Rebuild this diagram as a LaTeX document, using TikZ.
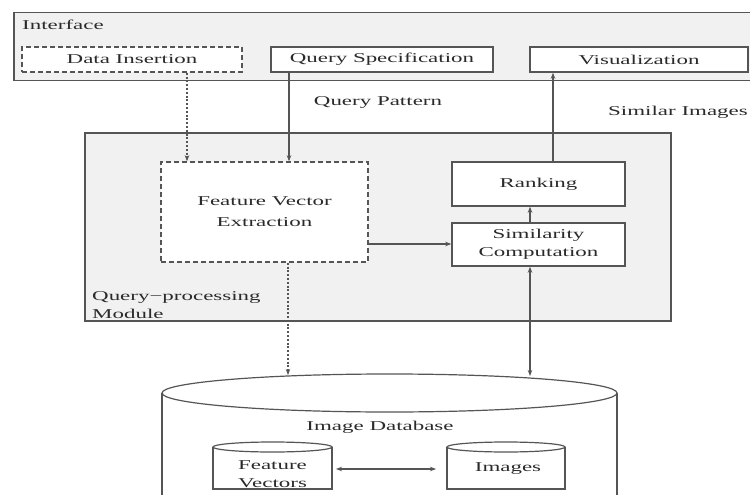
\documentclass[tikz,border=0pt]{standalone}
\usepackage{fontspec}
\setmainfont{Liberation Serif}
\usetikzlibrary{arrows.meta,calc}
\definecolor{ln}{HTML}{555555}
\definecolor{txt}{HTML}{2A2A2A}
\definecolor{bg}{HTML}{F1F1F1}
\newcommand\wtx[1]{\scalebox{1.7}[1]{#1}}
\begin{document}
\begin{tikzpicture}[x=1pt,y=-1pt,
  lbl/.style={inner sep=0pt, text=txt, font=\fontsize{13.5}{18}\selectfont},
  rect/.style={draw=ln, line width=1.5pt, fill=white, inner sep=0pt, text=txt,
    font=\fontsize{13.5}{18}\selectfont, align=center},
  dashbox/.style={dash pattern=on 5pt off 3pt},
  dotline/.style={dash pattern=on 2pt off 1.8pt, line width=1.6pt},
  arr/.style={draw=ln, line width=1.3pt, -{Stealth[length=6pt,width=4.5pt]}},
  arrtwo/.style={draw=ln, line width=1.3pt, {Stealth[length=6pt,width=4.5pt]}-{Stealth[length=6pt,width=4.5pt]}},
  dbline/.style={draw=ln, line width=1.2pt}]
\useasboundingbox (0,0) rectangle (750,495);
\clip (0,0) rectangle (750,495);
\fill[white] (0,0) rectangle (750,495);

% Interface
\node[draw=ln, line width=1.5pt, fill=bg, minimum width=760pt, minimum height=68pt,
  anchor=north west, inner sep=0pt] (iface) at (13,12) {};
\node[lbl, anchor=west] (ilbl) at (22,25) {\wtx{Interface}};
\node[rect, dashbox, minimum width=220pt, minimum height=25pt] (din) at (132,59.5) {\wtx{Data Insertion}};
\node[rect, minimum width=222pt, minimum height=25pt] (qs) at (382,59.5) {\wtx{Query Specification}};
\node[rect, minimum width=218pt, minimum height=25pt] (vis) at (639,59.5) {\wtx{Visualization}};

\node[lbl] (qpat) at (378,102) {\wtx{Query Pattern}};
\node[lbl, anchor=west] (simimg) at (608,112) {\wtx{Similar Images}};

% Query-processing module
\node[draw=ln, line width=1.5pt, fill=bg, minimum width=586pt, minimum height=188pt,
  inner sep=0pt] (mod) at (378,227) {};
\node[lbl, anchor=west] (modl1) at (92,297) {\wtx{Query−processing}};
\node[lbl, anchor=west] (modl2) at (92,314) {\wtx{Module}};

\node[rect, dashbox, minimum width=207pt, minimum height=100pt] (fve) at (264.5,212)
  {\wtx{Feature Vector}\\[3pt]\wtx{Extraction}};
\node[rect, minimum width=173pt, minimum height=44pt] (rank) at (538.5,184) {\wtx{Ranking}};
\node[rect, minimum width=173pt, minimum height=43pt] (simc) at (538.5,244.5)
  {\wtx{Similarity}\\\wtx{Computation}};

% Database
\fill[white] (162,393) rectangle (617,500);
\draw[dbline] (162,393) -- (162,500);
\draw[dbline] (617,393) -- (617,500);
\draw[dbline] (389.5,393) ellipse [x radius=227.5, y radius=19];
\node[lbl] (dblbl) at (380,427) {\wtx{Image Database}};

\draw[dbline] (213,447) -- (213,489) -- (332,489) -- (332,447);
\draw[dbline] (272.5,447) ellipse [x radius=59.5, y radius=5];
\node[lbl, align=center] (fvtxt) at (272.5,474) {\wtx{Feature}\\\wtx{Vectors}};

\draw[dbline] (447,447) -- (447,489) -- (565,489) -- (565,447);
\draw[dbline] (506,447) ellipse [x radius=59, y radius=5];
\node[lbl] (imtxt) at (508,469) {\wtx{Images}};

\coordinate (dbA) at (288,375);
\coordinate (dbB) at (530,376);
\coordinate (fvE) at (336,469);
\coordinate (imW) at (436,469);

% Connectors
\draw[arr, dotline] ([xshift=55pt]din.south) -- ([xshift=55pt]din.south |- fve.north);
\draw[arr] ([xshift=-93pt]qs.south) -- ([xshift=-93pt]qs.south |- fve.north);
\draw[arr] ([yshift=-32pt]fve.east) -- ([yshift=-32pt]fve.east -| simc.west);
\draw[arr] ([xshift=-8.5pt]simc.north) -- ([xshift=-8.5pt]rank.south);
\draw[arr] ([xshift=14.5pt]rank.north) -- ([xshift=14.5pt]rank.north |- vis.south);
\draw[arrtwo] ([xshift=-8.5pt]simc.south) -- (dbB);
\draw[arr, dotline] ([xshift=23.5pt]fve.south) -- (dbA);
\draw[arrtwo] (fvE) -- (imW);
\end{tikzpicture}
\end{document}
